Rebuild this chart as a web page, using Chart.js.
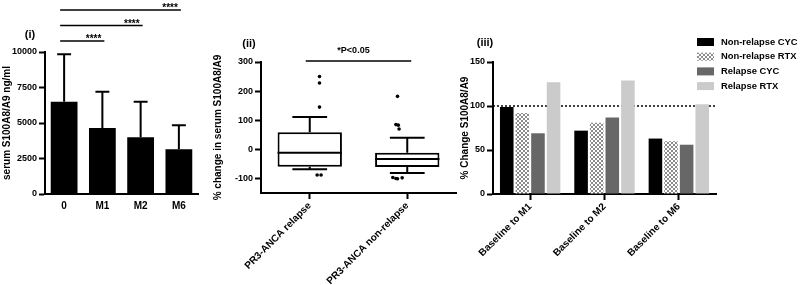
<!DOCTYPE html>
<html>
<head>
<meta charset="utf-8">
<script src="https://cdn.jsdelivr.net/npm/chart.js@4.4.0/dist/chart.umd.min.js"></script>
<style>
body { margin: 0; background: #fff; width: 800px; height: 285px; position: relative; overflow: hidden; }
canvas { position: absolute; top: 0; }
#c1 { left: 0; }
#c2 { left: 210px; }
#c3 { left: 455px; }
</style>
</head>
<body>
<canvas id="c1" width="200" height="285"></canvas>
<canvas id="c2" width="250" height="285"></canvas>
<canvas id="c3" width="345" height="285"></canvas>
<script>
// ---- panel (i): serum S100A8/A9 over time
var timeLabels = ['0', 'M1', 'M2', 'M6'];
var meanS100 = [6500, 4650, 4000, 3150];
var sdS100 = [3350, 2550, 2500, 1700];
var ticksI = [0, 2500, 5000, 7500, 10000];
var sigPairsI = [[0, 1], [0, 2], [0, 3]];
var sigTextI = '****';

// ---- panel (ii): % change, box plots
var groupLabels = ['PR3-ANCA relapse', 'PR3-ANCA non-relapse'];
var boxQ1 = [-60, -61];
var boxMedian = [-12, -33];
var boxQ3 = [59, -12];
var whiskerLow = [-68, -81];
var whiskerHigh = [111, 40];
// outliers: group index, small horizontal jitter (in category units) and value
var outlierGroup = [0, 0, 0, 0, 0, 1, 1, 1, 1, 1, 1, 1, 1];
var outlierJitter = [0, 0, 0, -0.03, 0.02, 0, -0.02, 0.01, 0.02, -0.06, -0.02, 0, 0.06];
var outlierY = [250, 228, 145, -88, -88, 182, 85, 83, 70, -97, -100, -101, -98];
var ticksII = [-100, 0, 100, 200, 300];
var sigTextII = '*P<0.05';

// ---- panel (iii): % change by treatment
var periodLabels = ['Baseline to M1', 'Baseline to M2', 'Baseline to M6'];
var nonRelapseCYC = [99, 72, 63];
var nonRelapseRTX = [92, 81, 60];
var relapseCYC = [69, 87, 56];
var relapseRTX = [127, 129, 102];
var ticksIII = [0, 50, 100, 150];
var refLine = 100;

var FONT = '"Liberation Sans", Arial, Helvetica, sans-serif';
Chart.defaults.font.family = FONT;
Chart.defaults.font.weight = 'bold';
Chart.defaults.color = '#000';

function yScale(min, max, tickVals, title, width, titlePad) {
    return {
        min: min,
        max: max,
        afterBuildTicks: function(s) { s.ticks = tickVals.map(function(v) { return {value: v}; }); },
        afterFit: function(s) { s.width = width; },
        border: {color: '#000', width: 2},
        grid: {drawOnChartArea: false, tickLength: 6, tickWidth: 2, tickColor: '#000'},
        ticks: {padding: 2, font: {size: 9, weight: 'bold'}, color: '#000', callback: function(v) { return String(v); }},
        title: {display: true, text: title, font: {size: 10, weight: 'bold'}, color: '#000', padding: {top: titlePad, bottom: 0}}
    };
}

function xRotated(height) {
    return {
        afterFit: function(s) { s.height = height; },
        border: {color: '#000', width: 2},
        grid: {display: true, drawOnChartArea: false, offset: false, tickLength: 6, tickWidth: 2, tickColor: '#000'},
        ticks: {minRotation: 45, maxRotation: 45, autoSkip: false, padding: 1, font: {size: 10, weight: 'bold'}, color: '#000'}
    };
}

function panelLabel(ctx, text, x, y) {
    ctx.save();
    ctx.fillStyle = '#000';
    ctx.font = 'bold 11px ' + FONT;
    ctx.textAlign = 'center';
    ctx.textBaseline = 'middle';
    ctx.fillText(text, x, y);
    ctx.restore();
}

// ---------- panel (i)
var plotI = {
    id: 'plotI',
    afterDatasetsDraw: function(chart) {
        var ctx = chart.ctx, x = chart.scales.x, y = chart.scales.y, area = chart.chartArea;
        var bars = chart.getDatasetMeta(0).data;
        ctx.save();
        ctx.strokeStyle = '#000';
        ctx.lineWidth = 2;
        for (var i = 0; i < meanS100.length; i++) {
            var cx = x.getPixelForValue(i);
            var yTop = y.getPixelForValue(meanS100[i] + sdS100[i]);
            var half = bars[i].width * 0.26;
            ctx.beginPath();
            ctx.moveTo(cx, y.getPixelForValue(meanS100[i]));
            ctx.lineTo(cx, yTop);
            ctx.moveTo(cx - half, yTop);
            ctx.lineTo(cx + half, yTop);
            ctx.stroke();
        }
        // significance brackets
        ctx.lineWidth = 1.5;
        ctx.font = 'bold 10px ' + FONT;
        ctx.textAlign = 'right';
        ctx.textBaseline = 'alphabetic';
        ctx.fillStyle = '#000';
        for (var k = 0; k < sigPairsI.length; k++) {
            var x0 = x.getPixelForValue(sigPairsI[k][0]) - 4;
            var x1 = x.getPixelForValue(sigPairsI[k][1]) + 2;
            var ly = area.top - 11 - k * 15.5;
            ctx.beginPath();
            ctx.moveTo(x0, ly);
            ctx.lineTo(x1, ly);
            ctx.stroke();
            ctx.fillText(sigTextI, x1 - 3, ly + 1);
        }
        ctx.restore();
        panelLabel(ctx, '(i)', area.left - 15, area.top - 17);
    }
};

new Chart(document.getElementById('c1'), {
    type: 'bar',
    data: {
        labels: timeLabels,
        datasets: [{
            data: meanS100,
            backgroundColor: '#000',
            borderWidth: 0,
            barPercentage: 0.7,
            categoryPercentage: 1
        }]
    },
    options: {
        responsive: false,
        animation: false,
        layout: {padding: {left: 0, right: 2, top: 52, bottom: 0}},
        plugins: {legend: {display: false}, tooltip: {enabled: false}},
        scales: {
            x: {
                afterFit: function(s) { s.height = 91; },
                border: {color: '#000', width: 2},
                grid: {display: false, drawTicks: false},
                ticks: {padding: 6, font: {size: 10, weight: 'bold'}, color: '#000'}
            },
            y: yScale(0, 10000, ticksI, 'serum S100A8/A9 ng/ml', 45, 1)
        }
    },
    plugins: [plotI]
});

// ---------- panel (ii)
var plotII = {
    id: 'plotII',
    afterDatasetsDraw: function(chart) {
        var ctx = chart.ctx, x = chart.scales.x, y = chart.scales.y, area = chart.chartArea;
        var boxes = chart.getDatasetMeta(0).data;
        ctx.save();
        ctx.strokeStyle = '#000';
        ctx.lineWidth = 2;
        for (var i = 0; i < groupLabels.length; i++) {
            var cx = x.getPixelForValue(i);
            var half = boxes[i].width / 2;
            var cap = boxes[i].width * 0.27;
            var yMed = y.getPixelForValue(boxMedian[i]);
            var yHi = y.getPixelForValue(whiskerHigh[i]);
            var yLo = y.getPixelForValue(whiskerLow[i]);
            ctx.beginPath();
            ctx.moveTo(cx - half, yMed); ctx.lineTo(cx + half, yMed);
            ctx.moveTo(cx, y.getPixelForValue(boxQ3[i])); ctx.lineTo(cx, yHi);
            ctx.moveTo(cx - cap, yHi); ctx.lineTo(cx + cap, yHi);
            ctx.moveTo(cx, y.getPixelForValue(boxQ1[i])); ctx.lineTo(cx, yLo);
            ctx.moveTo(cx - cap, yLo); ctx.lineTo(cx + cap, yLo);
            ctx.stroke();
        }
        // significance line
        var x0 = x.getPixelForValue(0) - 4, x1 = x.getPixelForValue(1) + 4;
        var ly = area.top - 1;
        ctx.lineWidth = 1.5;
        ctx.beginPath();
        ctx.moveTo(x0, ly); ctx.lineTo(x1, ly);
        ctx.stroke();
        ctx.fillStyle = '#000';
        ctx.font = 'bold 9px ' + FONT;
        ctx.textAlign = 'center';
        ctx.textBaseline = 'middle';
        ctx.fillText(sigTextII, (x0 + x1) / 2 - 5, ly - 10);
        ctx.restore();
        panelLabel(ctx, '(ii)', area.left - 12, area.top - 18);
    }
};

var outlierPoints = outlierY.map(function(v, i) {
    return {x: outlierGroup[i] + outlierJitter[i], y: v};
});

new Chart(document.getElementById('c2'), {
    type: 'bar',
    data: {
        labels: groupLabels,
        datasets: [{
            data: groupLabels.map(function(g, i) { return [boxQ1[i], boxQ3[i]]; }),
            backgroundColor: '#fff',
            borderColor: '#000',
            borderWidth: 2,
            borderSkipped: false,
            grouped: false,
            barPercentage: 0.66,
            categoryPercentage: 1
        }, {
            type: 'scatter',
            xAxisID: 'xp',
            data: outlierPoints,
            pointRadius: 1.8,
            pointBackgroundColor: '#000',
            pointBorderWidth: 0
        }]
    },
    options: {
        responsive: false,
        animation: false,
        layout: {padding: {left: 0, right: 2, top: 62, bottom: 0}},
        plugins: {legend: {display: false}, tooltip: {enabled: false}},
        scales: {
            x: xRotated(92),
            xp: {type: 'linear', min: -0.5, max: 1.5, display: false},
            y: yScale(-150, 300, ticksII, '% change in serum S100A8/A9', 51, 2)
        }
    },
    plugins: [plotII]
});

// ---------- panel (iii)
function checkerPattern() {
    var c = document.createElement('canvas');
    c.width = 4; c.height = 4;
    var g = c.getContext('2d');
    g.fillStyle = '#8c8c8c';
    g.fillRect(0, 0, 4, 4);
    g.fillStyle = '#ffffff';
    g.fillRect(0, 0, 2, 2);
    g.fillRect(2, 2, 2, 2);
    return g.createPattern(c, 'repeat');
}
var checker = checkerPattern();

var plotIII = {
    id: 'plotIII',
    beforeDatasetsDraw: function(chart) {
        var ctx = chart.ctx, y = chart.scales.y, area = chart.chartArea;
        var ly = y.getPixelForValue(refLine);
        ctx.save();
        ctx.strokeStyle = '#000';
        ctx.lineWidth = 1.5;
        ctx.setLineDash([2, 2]);
        ctx.beginPath();
        ctx.moveTo(area.left, ly); ctx.lineTo(area.right, ly);
        ctx.stroke();
        ctx.restore();
    },
    afterDraw: function(chart) {
        var ctx = chart.ctx, area = chart.chartArea;
        ctx.save();
        ctx.font = 'bold 9.4px ' + FONT;
        ctx.textAlign = 'left';
        ctx.textBaseline = 'middle';
        chart.data.datasets.forEach(function(ds, i) {
            var cy = area.top - 20 + i * 14.7;
            ctx.fillStyle = ds.backgroundColor;
            ctx.fillRect(area.right - 19, cy - 4, 17, 8);
            ctx.fillStyle = '#000';
            ctx.fillText(ds.label, area.right + 5, cy);
        });
        ctx.restore();
        panelLabel(ctx, '(iii)', area.left - 8, area.top - 19);
    }
};

var barOpts = {barPercentage: 0.87, categoryPercentage: 0.84, borderWidth: 0};
new Chart(document.getElementById('c3'), {
    type: 'bar',
    data: {
        labels: periodLabels,
        datasets: [
            Object.assign({label: 'Non-relapse CYC', data: nonRelapseCYC, backgroundColor: '#000'}, barOpts),
            Object.assign({label: 'Non-relapse RTX', data: nonRelapseRTX, backgroundColor: checker}, barOpts),
            Object.assign({label: 'Relapse CYC', data: relapseCYC, backgroundColor: '#676767'}, barOpts),
            Object.assign({label: 'Relapse RTX', data: relapseRTX, backgroundColor: '#cbcbcb'}, barOpts)
        ]
    },
    options: {
        responsive: false,
        animation: false,
        layout: {padding: {left: 0, right: 84, top: 62, bottom: 0}},
        plugins: {legend: {display: false}, tooltip: {enabled: false}},
        scales: {
            x: xRotated(91),
            y: yScale(0, 150, ticksIII, '% Change S100A8/A9', 38, 4)
        }
    },
    plugins: [plotIII]
});
</script>
</body>
</html>
